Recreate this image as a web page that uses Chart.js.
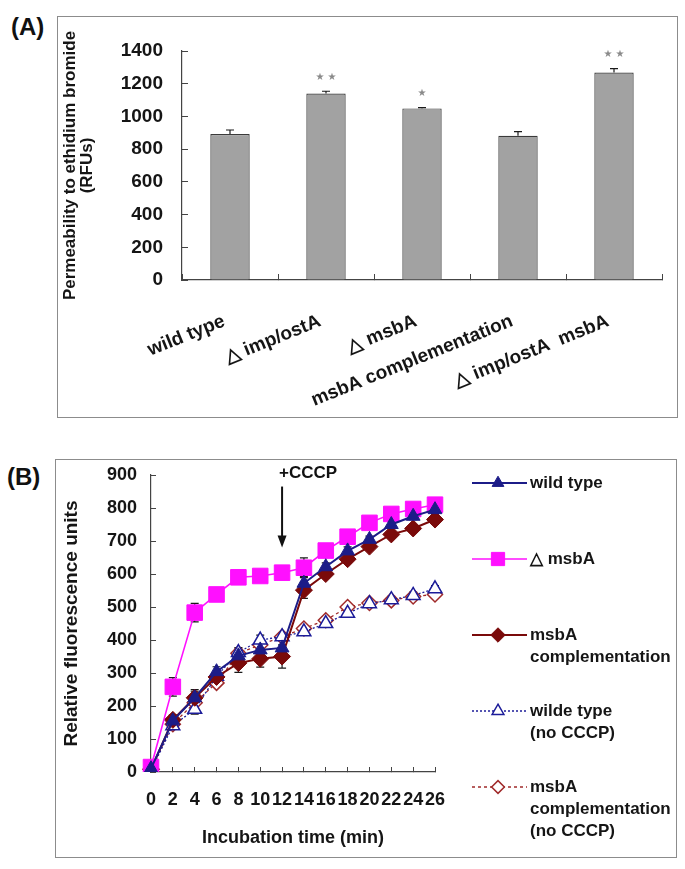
<!DOCTYPE html>
<html>
<head>
<meta charset="utf-8">
<script src="https://cdn.jsdelivr.net/npm/chart.js@4.4.1/dist/chart.umd.min.js"></script>
<style>
  body { margin: 0; width: 685px; height: 869px; background: #fff; position: relative; overflow: hidden;
         font-family: "Liberation Sans", Arial, sans-serif; }
  .frame { position: absolute; border: 1.5px solid #8c8c8c; box-sizing: border-box; }
  .box { position: absolute; }
  .tag { position: absolute; font-weight: bold; font-size: 24px; line-height: 24px; color: #111; }
</style>
</head>
<body>
<div class="tag" style="left:11px;top:15px">(A)</div>
<div class="frame" style="left:57px;top:16px;width:621px;height:402px"></div>
<div class="box" style="left:57px;top:16px;width:621px;height:402px"><canvas id="chartA"></canvas></div>

<div class="tag" style="left:7px;top:465px">(B)</div>
<div class="frame" style="left:55px;top:459px;width:622px;height:399px"></div>
<div class="box" style="left:55px;top:459px;width:622px;height:399px"><canvas id="chartB"></canvas></div>

<script>
// ---- panel A data ----
var strains = ["wild type", "\u25B3 imp/ostA", "\u25B3 msbA", "msbA complementation", "\u25B3 imp/ostA  msbA"];
var permeability = [892, 1140, 1049, 882, 1268];
var permeabilityErr = [25, 14, 5, 25, 24];
var significance = ["", "\u2605 \u2605", "\u2605", "", "\u2605 \u2605"];

// ---- panel B data ----
var times = ["0", "2", "4", "6", "8", "10", "12", "14", "16", "18", "20", "22", "24", "26"];
var wildType       = [10, 155, 225, 304, 352, 370, 376, 572, 622, 670, 705, 750, 775, 795];
var msbA           = [15, 258, 483, 538, 590, 594, 604, 619, 671, 713, 755, 782, 797, 810];
var msbAComp       = [8, 158, 225, 288, 330, 343, 350, 551, 600, 645, 683, 720, 738, 765];
var wildTypeNo     = [5, 140, 190, 290, 362, 400, 410, 425, 450, 481, 510, 522, 535, 555];
var msbACompNo     = [10, 145, 210, 270, 360, 385, 410, 435, 460, 500, 512, 520, 532, 538];
var wildTypeErr    = [5, 15, 25, 15, 15, 15, 25, 20, 12, 12, 10, 10, 10, 12];
var msbAErr        = [5, 28, 28, 15, 15, 18, 18, 30, 12, 12, 10, 12, 10, 12];
var msbACompErr    = [5, 15, 20, 15, 28, 25, 35, 25, 12, 12, 10, 10, 10, 15];
var wildTypeNoErr  = [3, 10, 15, 10, 15, 15, 12, 10, 10, 10, 10, 10, 10, 10];
var msbACompNoErr  = [3, 10, 15, 10, 15, 15, 12, 10, 10, 10, 10, 10, 10, 10];
var seriesNames = ["wild type", "\u25B3 msbA", "msbA\ncomplementation", "wilde type\n(no CCCP)", "msbA\ncomplementation\n(no CCCP)"];
var cccpTime = "12";

var FONT = '"Liberation Sans", Arial, sans-serif';
Chart.defaults.font.family = FONT;
Chart.defaults.color = '#151515';

// error bars drawn from the dataset's "errors" list, under the marks
var errorBars = {
  id: 'errorBars',
  beforeDatasetsDraw: function(chart, args, opts) {
    var ctx = chart.ctx, ys = chart.scales.y;
    ctx.save();
    chart.data.datasets.forEach(function(ds, i) {
      if (!ds.errors) return;
      var meta = chart.getDatasetMeta(i);
      meta.data.forEach(function(el, j) {
        var v = ds.data[j], e = ds.errors[j];
        var top = ys.getPixelForValue(v + e);
        var bot = opts.plusOnly ? ys.getPixelForValue(v) : ys.getPixelForValue(v - e);
        ctx.strokeStyle = '#1a1a1a';
        ctx.lineWidth = 1.2;
        ctx.beginPath();
        ctx.moveTo(el.x, top); ctx.lineTo(el.x, bot);
        ctx.moveTo(el.x - 4, top); ctx.lineTo(el.x + 4, top);
        if (!opts.plusOnly) { ctx.moveTo(el.x - 4, bot); ctx.lineTo(el.x + 4, bot); }
        ctx.stroke();
      });
    });
    ctx.restore();
  }
};

var stars = {
  id: 'stars',
  afterDatasetsDraw: function(chart) {
    var ctx = chart.ctx, ys = chart.scales.y, ds = chart.data.datasets[0];
    var meta = chart.getDatasetMeta(0);
    ctx.save();
    ctx.fillStyle = '#8a8a8a';
    ctx.font = '10px "DejaVu Sans"';
    ctx.textAlign = 'center';
    ctx.textBaseline = 'bottom';
    meta.data.forEach(function(el, j) {
      if (!significance[j]) return;
      ctx.fillText(significance[j], el.x, ys.getPixelForValue(ds.data[j] + ds.errors[j]) - 9);
    });
    ctx.restore();
  }
};

new Chart(document.getElementById('chartA'), {
  type: 'bar',
  data: {
    labels: strains,
    datasets: [{
      data: permeability,
      errors: permeabilityErr,
      backgroundColor: '#a2a2a2',
      borderColor: '#3a3a3a',
      borderWidth: 1.2,
      categoryPercentage: 1,
      barPercentage: 0.41
    }]
  },
  options: {
    responsive: true,
    maintainAspectRatio: false,
    animation: false,
    layout: { padding: { top: 35, right: 16, left: 0, bottom: 0 } },
    plugins: {
      legend: { display: false },
      tooltip: { enabled: false },
      errorBars: { plusOnly: true }
    },
    scales: {
      x: {
        grid: { drawOnChartArea: false, offset: true, tickLength: -6, color: '#444' },
        border: { color: '#444', width: 1.2 },
        ticks: { font: { size: 19, weight: 'bold' }, minRotation: 22, maxRotation: 22, autoSkip: false,
                 padding: 36, labelOffset: -6 },
        afterFit: function(s) { s.height = 138; }
      },
      y: {
        min: 0,
        max: 1400,
        grid: { drawOnChartArea: false, tickLength: -6, color: '#444' },
        border: { color: '#444', width: 1.2 },
        ticks: { stepSize: 200, font: { size: 19, weight: 'bold' }, padding: 25,
                 callback: function(v) { return String(v); } },
        title: {
          display: true,
          text: ['Permeability to ethidium bromide', '(RFUs)'],
          font: { size: 17, weight: 'bold', lineHeight: 1.05 },
          padding: { top: 4, bottom: 0 }
        },
        afterFit: function(s) { s.width = 125; s.paddingTop = 0; s.paddingBottom = 0; }
      }
    }
  },
  plugins: [errorBars, stars]
});

// +CCCP arrow and the side legend
var cccpArrow = {
  id: 'cccpArrow',
  afterDraw: function(chart) {
    var ctx = chart.ctx, xs = chart.scales.x, ys = chart.scales.y;
    var x = xs.getPixelForValue(times.indexOf(cccpTime));
    var y0 = ys.getPixelForValue(865), y1 = ys.getPixelForValue(680);
    ctx.save();
    ctx.strokeStyle = '#111'; ctx.fillStyle = '#111'; ctx.lineWidth = 2;
    ctx.beginPath(); ctx.moveTo(x, y0); ctx.lineTo(x, y1 - 10); ctx.stroke();
    ctx.beginPath(); ctx.moveTo(x - 4.5, y1 - 12); ctx.lineTo(x + 4.5, y1 - 12); ctx.lineTo(x, y1); ctx.closePath(); ctx.fill();
    ctx.font = 'bold 17px ' + FONT;
    ctx.textAlign = 'left'; ctx.textBaseline = 'middle';
    ctx.fillText('+CCCP', x - 3, ys.getPixelForValue(906));
    ctx.restore();
  }
};

var sideLegend = {
  id: 'sideLegend',
  afterDraw: function(chart) {
    var ctx = chart.ctx, area = chart.chartArea;
    ctx.save();
    chart.data.datasets.forEach(function(ds, i) {
      var y = area.top + 8 + i * 76;
      var x0 = area.right + 37, x1 = area.right + 92, xm = area.right + 63;
      ctx.strokeStyle = ds.borderColor;
      ctx.lineWidth = ds.borderWidth;
      ctx.setLineDash(ds.borderDash || []);
      ctx.beginPath(); ctx.moveTo(x0, y); ctx.lineTo(x1, y); ctx.stroke();
      ctx.setLineDash([]);
      ctx.fillStyle = ds.pointBackgroundColor;
      ctx.strokeStyle = ds.pointBorderColor;
      ctx.lineWidth = ds.pointBorderWidth;
      Chart.helpers.drawPoint(ctx, { pointStyle: ds.pointStyle, radius: ds.pointRadius * 0.85, rotation: 0, borderWidth: ds.pointBorderWidth }, xm, y);
      ctx.fillStyle = '#151515';
      ctx.font = 'bold 17px ' + FONT;
      ctx.textAlign = 'left'; ctx.textBaseline = 'middle';
      ds.label.split('\n').forEach(function(line, k) {
        ctx.fillText(line, area.right + 95, y + k * 22);
      });
    });
    ctx.restore();
  }
};

function series(label, data, errors, color, style, radius, filled, dash, width) {
  return {
    label: label, data: data, errors: errors,
    borderColor: color, borderWidth: width, borderDash: dash,
    pointStyle: style, pointRadius: radius,
    pointBackgroundColor: filled ? color : '#ffffff',
    pointBorderColor: color, pointBorderWidth: filled ? 1 : 1.5,
    fill: false, tension: 0
  };
}

new Chart(document.getElementById('chartB'), {
  type: 'line',
  data: {
    labels: times,
    datasets: [
      series(seriesNames[0], wildType, wildTypeErr, '#1c1c88', 'triangle', 8, true, [], 2),
      series(seriesNames[1], msbA, msbAErr, '#ff10ff', 'rect', 11, true, [], 1.6),
      series(seriesNames[2], msbAComp, msbACompErr, '#7a0a0a', 'rectRot', 8.5, true, [], 2),
      series(seriesNames[3], wildTypeNo, wildTypeNoErr, '#1c1c99', 'triangle', 8, false, [2, 2], 1.3),
      series(seriesNames[4], msbACompNo, msbACompNoErr, '#a02a2a', 'rectRot', 7.5, false, [3, 3], 1.3)
    ]
  },
  options: {
    responsive: true,
    maintainAspectRatio: false,
    animation: false,
    layout: { padding: { top: 16, right: 242, left: 0, bottom: 0 } },
    plugins: {
      legend: { display: false },
      tooltip: { enabled: false },
      errorBars: { plusOnly: false }
    },
    scales: {
      x: {
        offset: false,
        grid: { drawOnChartArea: false, tickLength: -5, color: '#444' },
        border: { color: '#444', width: 1.2 },
        ticks: { font: { size: 18, weight: 'bold' }, minRotation: 0, maxRotation: 0, autoSkip: false, padding: 22 },
        title: { display: true, text: 'Incubation time (min)', font: { size: 18, weight: 'bold' }, padding: { top: 0, bottom: 9 } },
        afterFit: function(s) { s.height = 86; }
      },
      y: {
        min: 0,
        max: 900,
        grid: { drawOnChartArea: false, tickLength: -5, color: '#444' },
        border: { color: '#444', width: 1.2 },
        ticks: { stepSize: 100, font: { size: 18, weight: 'bold' }, padding: 19 },
        title: { display: true, text: 'Relative fluorescence units', font: { size: 19, weight: 'bold' }, padding: { top: 5, bottom: 0 } },
        afterFit: function(s) { s.width = 96; s.paddingTop = 0; s.paddingBottom = 0; }
      }
    }
  },
  plugins: [errorBars, cccpArrow, sideLegend]
});
</script>
</body>
</html>
